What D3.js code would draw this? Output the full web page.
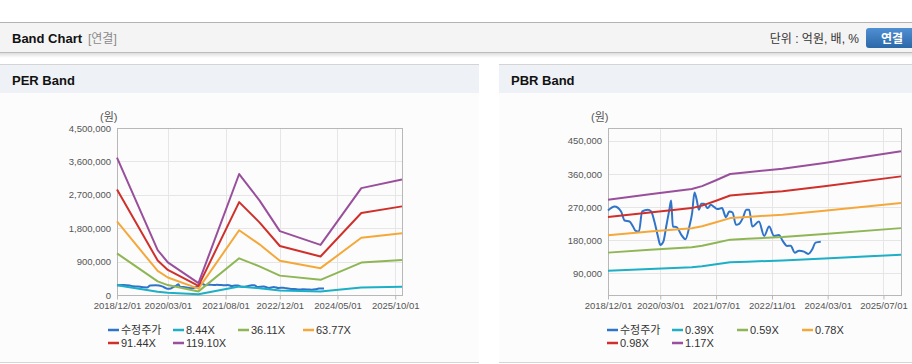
<!DOCTYPE html>
<html>
<head>
<meta charset="utf-8">
<script src="https://cdn.jsdelivr.net/npm/d3@7"></script>
<style>
body { margin: 0; background: #fff; }
svg text { font-family: "Liberation Sans", Arial, "Noto Sans CJK KR", sans-serif; }
</style>
</head>
<body>
<script>
// ---- data ----
// adjusted price (수정주가), shared by both panels
var priceDates = ["2018-12-01","2019-01-28","2019-03-25","2019-04-25","2019-06-07","2019-07-07","2019-07-28","2019-08-28",
  "2019-09-25","2019-11-13","2019-12-13","2020-01-10","2020-02-10","2020-03-01","2020-03-28","2020-04-22","2020-05-19",
  "2020-06-04","2020-06-19","2020-07-22","2020-09-01","2020-10-07","2020-11-10","2020-12-04","2020-12-25","2021-01-13",
  "2021-02-01","2021-02-22","2021-03-19","2021-04-19","2021-05-16","2021-06-16","2021-07-13","2021-08-22","2021-09-25",
  "2021-10-25","2021-11-22","2021-12-22","2022-01-19","2022-02-19","2022-03-22","2022-04-16","2022-05-13","2022-07-10",
  "2022-08-25","2022-10-07","2022-11-19","2023-01-01","2023-02-01","2023-03-13","2023-04-13","2023-05-19","2023-06-25",
  "2023-08-07","2023-09-13","2023-10-19","2023-11-16","2024-01-01"];
var priceValues = [260800,271700,258100,233500,230800,217200,206300,203500,
  258100,262600,258100,230800,189900,167200,176300,217200,262600,
  288000,217200,215400,194500,182700,217200,253600,309900,289900,
  262600,279000,279000,267300,276300,270000,264500,267300,242700,
  258100,255300,221700,224400,240000,262600,263000,217000,230700,
  191700,217000,191700,194000,179000,164400,165000,146000,151600,
  149000,142700,155400,173500,176000];

// PER band
var perDates = ["2018-12-01","2019-12-01","2020-03-01","2020-12-01","2021-12-01","2022-06-01","2022-12-01","2023-12-01","2024-12-01","2025-12-01"];
var per844   = [262000, 86000, 62000, 23000, 231000, 181000, 122000, 96000, 204000, 220000];
var per3611  = [1122000, 367000, 267000, 97000, 988000, 773000, 522000, 409000, 873000, 943000];
var per6377  = [1981000, 648000, 471000, 171000, 1745000, 1365000, 921000, 723000, 1542000, 1665000];
var per9144  = [2841000, 929000, 676000, 246000, 2503000, 1958000, 1321000, 1037000, 2211000, 2388000];
var per11910 = [3700000, 1210000, 880000, 320000, 3260000, 2550000, 1720000, 1350000, 2880000, 3110000];
var perLegend = ["수정주가", "8.44X", "36.11X", "63.77X", "91.44X", "119.10X"];
var perYTicks = [0, 900000, 1800000, 2700000, 3600000, 4500000];
var perXTicks = ["2018-12-01","2020-03-01","2021-08-01","2022-12-01","2024-05-01","2025-10-01"];

// PBR band
var pbrDates = ["2018-12-01","2019-12-01","2020-12-01","2021-03-01","2021-07-01","2021-11-01","2022-04-01","2023-02-01","2024-02-01","2025-12-01"];
var pbr039 = [96700, 101700, 106300, 109000, 114300, 120000, 121700, 124700, 130000, 140700];
var pbr059 = [146200, 153800, 160900, 164900, 173000, 181500, 184100, 188600, 196700, 212800];
var pbr078 = [193300, 203300, 212700, 218000, 228700, 240000, 243300, 249300, 260000, 281300];
var pbr098 = [242900, 255500, 267200, 273900, 287300, 301500, 305700, 313300, 326700, 353500];
var pbr117 = [290000, 305000, 319000, 327000, 343000, 360000, 365000, 374000, 390000, 422000];
var pbrLegend = ["수정주가", "0.39X", "0.59X", "0.78X", "0.98X", "1.17X"];
var pbrYTicks = [90000, 180000, 270000, 360000, 450000];
var pbrXTicks = ["2018-12-01","2020-03-01","2021-07-01","2022-11-01","2024-03-01","2025-07-01"];

var colors = ["#2f74c9", "#1cafc6", "#8fb655", "#f5a83a", "#cf302b", "#994f9c"];

var parse = d3.timeParse("%Y-%m-%d");
var fmtTick = d3.timeFormat("%Y/%m/%d");

var svg = d3.select("body").append("svg")
  .attr("width", 912)
  .attr("height", 364);

var defs = svg.append("defs");
var shadow = defs.append("linearGradient").attr("id", "shd").attr("x1", 0).attr("y1", 0).attr("x2", 0).attr("y2", 1);
shadow.append("stop").attr("offset", "0%").attr("stop-color", "#000").attr("stop-opacity", 0.13);
shadow.append("stop").attr("offset", "100%").attr("stop-color", "#000").attr("stop-opacity", 0);
var btn = defs.append("linearGradient").attr("id", "btn").attr("x1", 0).attr("y1", 0).attr("x2", 0).attr("y2", 1);
btn.append("stop").attr("offset", "0%").attr("stop-color", "#4f8fd3");
btn.append("stop").attr("offset", "100%").attr("stop-color", "#2b68a8");

// header bar
svg.append("rect").attr("x", 0).attr("y", 22).attr("width", 912).attr("height", 30).attr("fill", "#f4f4f4");
svg.append("line").attr("x1", 0).attr("x2", 912).attr("y1", 22.5).attr("y2", 22.5).attr("stroke", "#b3b3b3");
svg.append("line").attr("x1", 0).attr("x2", 912).attr("y1", 52.5).attr("y2", 52.5).attr("stroke", "#bcbcbc");
svg.append("rect").attr("x", 0).attr("y", 53).attr("width", 912).attr("height", 5).attr("fill", "url(#shd)");

svg.append("text").attr("x", 12).attr("y", 43)
  .style("font-size", "13px").style("font-weight", "bold").attr("fill", "#111")
  .text("Band Chart");
svg.append("text").attr("x", 88).attr("y", 43)
  .style("font-size", "12px").attr("fill", "#8a8a8a")
  .text("[연결]");
svg.append("text").attr("x", 859).attr("y", 43).attr("text-anchor", "end")
  .style("font-size", "12px").attr("fill", "#333")
  .text("단위 : 억원, 배, %");
svg.append("rect").attr("x", 866).attr("y", 28).attr("width", 56).attr("height", 20).attr("rx", 3)
  .attr("fill", "url(#btn)");
svg.append("text").attr("x", 892).attr("y", 42.5).attr("text-anchor", "middle")
  .style("font-size", "12px").style("font-weight", "bold").attr("fill", "#fff")
  .text("연결");

function drawBand(cfg) {
  var g = svg.append("g");

  // panel
  g.append("rect").attr("x", cfg.px).attr("y", 64).attr("width", cfg.pw).attr("height", 299).attr("fill", "#fcfcfc");
  g.append("rect").attr("x", cfg.px).attr("y", 64).attr("width", cfg.pw).attr("height", 29).attr("fill", "#eef1f6");
  g.append("line").attr("x1", cfg.px).attr("x2", cfg.px + cfg.pw).attr("y1", 64.5).attr("y2", 64.5).attr("stroke", "#d4d4d4");
  g.append("line").attr("x1", cfg.px).attr("x2", cfg.px + cfg.pw).attr("y1", 362.5).attr("y2", 362.5).attr("stroke", "#d6d6d6");
  g.append("text").attr("x", cfg.px + 12).attr("y", 85)
    .style("font-size", "13px").style("font-weight", "bold").attr("fill", "#111")
    .text(cfg.title);

  var top = 128, bottom = 295;
  var x = d3.scaleTime()
    .domain([parse("2018-12-01"), parse("2025-12-01")])
    .range([cfg.left, cfg.right]);
  var y = d3.scaleLinear()
    .domain(cfg.yDomain)
    .range([bottom, top]);

  // grid
  g.append("g").selectAll("line").data(cfg.yTicks).enter().append("line")
    .attr("x1", cfg.left).attr("x2", cfg.right)
    .attr("y1", d => Math.round(y(d)) + 0.5).attr("y2", d => Math.round(y(d)) + 0.5)
    .attr("stroke", "#e6e6e6");
  g.append("g").selectAll("line").data(cfg.xTicks).enter().append("line")
    .attr("x1", d => Math.round(x(parse(d))) + 0.5).attr("x2", d => Math.round(x(parse(d))) + 0.5)
    .attr("y1", top).attr("y2", bottom)
    .attr("stroke", "#e6e6e6");

  // frame
  g.append("rect")
    .attr("x", cfg.left + 0.5).attr("y", top + 0.5)
    .attr("width", cfg.right - cfg.left).attr("height", bottom - top)
    .attr("fill", "none").attr("stroke", "#b8b8b8");

  // y axis labels
  var leftAxis = d3.axisLeft(y).tickValues(cfg.yTicks).tickSize(0).tickPadding(6).tickFormat(d3.format(","));
  var ya = g.append("g").attr("transform", `translate(${cfg.left},0)`).call(leftAxis);
  ya.select(".domain").remove();
  ya.selectAll("text").style("font-size", "9.5px").attr("fill", "#555");

  // x axis
  var bottomAxis = d3.axisBottom(x).tickValues(cfg.xTicks.map(parse)).tickSize(4).tickPadding(3).tickFormat(fmtTick);
  var xa = g.append("g").attr("transform", `translate(0,${bottom + 0.5})`).call(bottomAxis);
  xa.select(".domain").remove();
  xa.selectAll("line").attr("stroke", "#b8b8b8");
  xa.selectAll("text").style("font-size", "9.5px").attr("fill", "#555");

  g.append("text").attr("x", cfg.left - 17).attr("y", 121)
    .style("font-size", "11px").attr("fill", "#555")
    .text("(원)");

  // lines
  var line = d3.line().x(d => x(d[0])).y(d => y(d[1]));
  var priceLine = d3.line().x(d => x(d[0])).y(d => y(d[1])).curve(d3.curveMonotoneX);

  g.append("path")
    .datum(priceDates.map((d, i) => [parse(d), priceValues[i]]))
    .attr("d", priceLine)
    .attr("fill", "none").attr("stroke", colors[0]).attr("stroke-width", 2);

  cfg.bands.forEach(function(vals, k) {
    g.append("path")
      .datum(cfg.dates.map((d, i) => [parse(d), vals[i]]))
      .attr("d", line)
      .attr("fill", "none").attr("stroke", colors[k + 1]).attr("stroke-width", 2)
      .attr("stroke-linejoin", "round");
  });

  // legend
  var items = g.append("g").selectAll("g").data(cfg.legend).enter().append("g")
    .attr("transform", (d, i) => `translate(${cfg.legendX + (i % 4) * 65},${330 + Math.floor(i / 4) * 13})`);
  items.append("line").attr("x1", 0).attr("x2", 11).attr("y1", 0).attr("y2", 0)
    .attr("stroke", (d, i) => colors[i]).attr("stroke-width", 2.5);
  items.append("text").attr("x", 13).attr("y", 4)
    .style("font-size", "11px").attr("fill", "#333")
    .text(d => d);
}

drawBand({
  title: "PER Band", px: 0, pw: 479,
  left: 117, right: 402,
  yDomain: [0, 4500000], yTicks: perYTicks, xTicks: perXTicks,
  dates: perDates, bands: [per844, per3611, per6377, per9144, per11910],
  legend: perLegend, legendX: 108
});

drawBand({
  title: "PBR Band", px: 499, pw: 413,
  left: 608, right: 901,
  yDomain: [31000, 485000], yTicks: pbrYTicks, xTicks: pbrXTicks,
  dates: pbrDates, bands: [pbr039, pbr059, pbr078, pbr098, pbr117],
  legend: pbrLegend, legendX: 607
});
</script>
</body>
</html>
